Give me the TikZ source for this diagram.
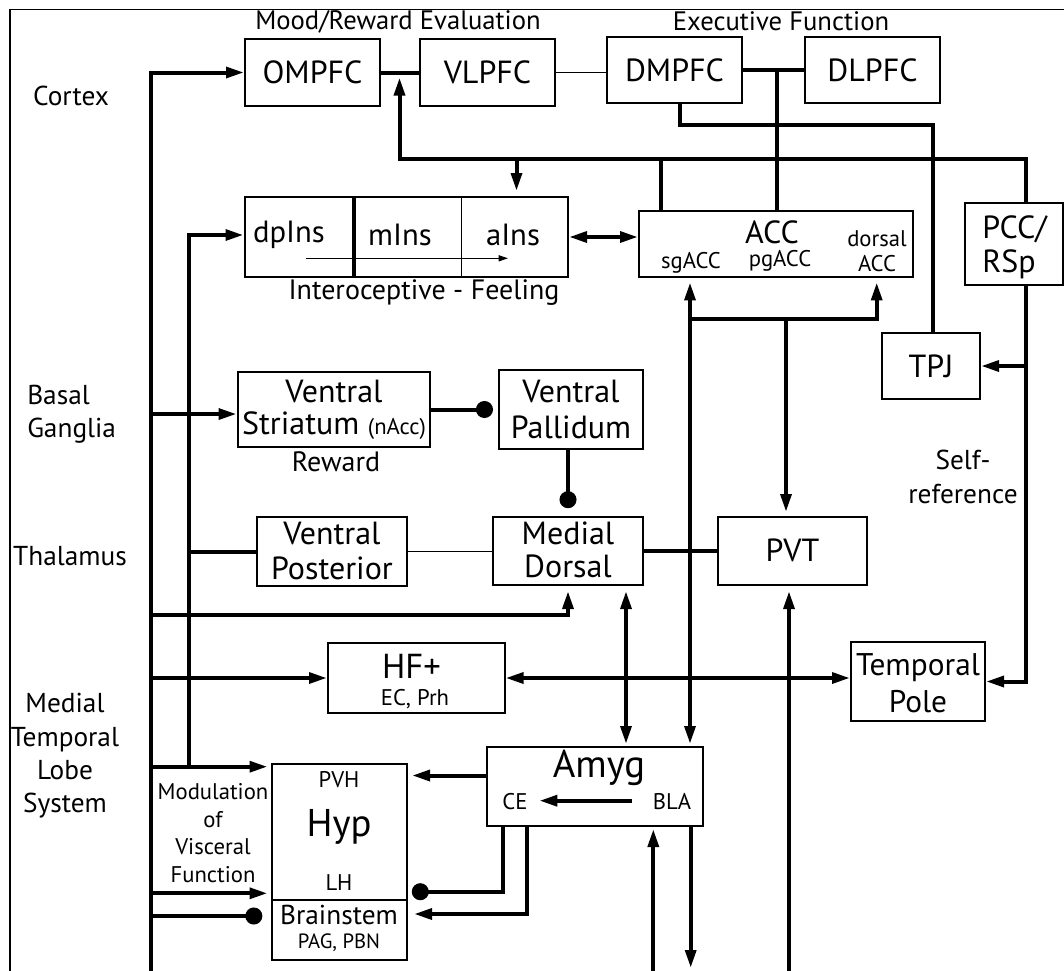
\documentclass[tikz,border=0pt]{standalone}
\usepackage{fontspec}
\setmainfont{PT Sans}
\usetikzlibrary{arrows.meta,fit}
\newcommand\fBox{\fontsize{24}{26}\selectfont}
\newcommand\fIns{\fontsize{23}{24}\selectfont}
\newcommand\fReg{\fontsize{20.5}{25}\selectfont}
\newcommand\fSub{\fontsize{17}{19}\selectfont}
\newcommand\fMod{\fontsize{17}{20.8}\selectfont}
\newcommand\fHead{\fontsize{20}{22}\selectfont}
\begin{document}
\begin{tikzpicture}[x=0.75pt,y=-0.75pt,
  box/.style={draw, line width=1.5pt, inner sep=0pt},
  txt/.style={inner sep=0pt, align=center},
  bt/.style={txt, font=\fBox},
  thk/.style={line width=3pt},
  thn/.style={line width=0.9pt},
  arr/.style={thk, -{Triangle[length=13.5pt,width=8pt]}},
  arrb/.style={thk, {Triangle[length=13.5pt,width=8pt]}-{Triangle[length=13.5pt,width=8pt]}},
  dotl/.style={thk, -{Circle[length=12.75pt]}}]
\useasboundingbox (0,0) rectangle (1064,971);
\fill[white] (0,0) rectangle (1064,971);
% frame
\draw[line width=1.2pt] (10,971) -- (10,9.5) -- (1064,9.5);

% boxes
\node[box, fit={(245,39) (380,106)}] (OMPFC) {};
\node[box, fit={(420,39) (555,106)}] (VLPFC) {};
\node[box, fit={(607,37) (742,103)}] (DMPFC) {};
\node[box, fit={(805,37) (940,103)}] (DLPFC) {};
\node[box, fit={(244.5,197) (568,277)}] (INS) {};
\node[box, fit={(639,211) (913,277)}] (ACC) {};
\node[box, fit={(965,203) (1063,284.5)}] (PCC) {};
\node[box, fit={(882,333) (980,399)}] (TPJ) {};
\node[box, fit={(237.6,372) (430.4,447)}] (VS) {};
\node[box, fit={(499.3,370) (643,449)}] (VP) {};
\node[box, fit={(257,517) (407,586)}] (VPost) {};
\node[box, fit={(493,516.5) (643,585)}] (MD) {};
\node[box, fit={(718,516.5) (867,585)}] (PVT) {};
\node[box, fit={(328,643) (504.5,713)}] (HF) {};
\node[box, fit={(851,642) (985,721)}] (TP) {};
\node[box, fit={(272,764) (407.4,960)}] (Hyp) {};
\node[box, fit={(487.3,747) (703.3,826)}] (Amyg) {};

% box texts
\node[bt] (OMPFCt) at (OMPFC.center) {OMPFC};
\node[bt] (VLPFCt) at (VLPFC.center) {VLPFC};
\node[bt] (DMPFCt) at (DMPFC.center) {DMPFC};
\node[bt] (DLPFCt) at (DLPFC.center) {DLPFC};
\node[bt] (TPJt) at (TPJ.center) {TPJ};
\node[bt] (PVTt) at (PVT.center) {PVT};
\node[bt, font=\fontsize{24}{27}\selectfont] (VPt) at (571,409) {Ventral\\Pallidum};
\node[bt, font=\fontsize{24}{26}\selectfont] (VPostt) at (332,551) {Ventral\\Posterior};
\node[bt, font=\fontsize{24}{25}\selectfont] (MDt) at (568,550) {Medial\\Dorsal};
\node[bt, font=\fontsize{23.5}{28}\selectfont] (TPt) at (918,683) {Temporal\\Pole};
\node[bt, font=\fontsize{24}{24}\selectfont] (VSt) at (334,410) {Ventral\\Striatum {\fSub(nAcc)}};

\node[txt, font=\fIns] (dpIns) at (289,235) {dpIns};
\node[txt, font=\fIns] (mIns) at (400,235) {mIns};
\node[txt, font=\fIns] (aIns) at (513,235) {aIns};
\draw[thk] (353.6,197) -- (353.6,277);
\draw[thn] (461.4,197) -- (461.4,277);
\draw[thn, -{Triangle[length=7pt,width=4.5pt]}] (305.8,258.3) -- (508,258.3);

\node[bt] (ACCt) at (772,232) {ACC};
\node[txt, font=\fSub] (sgACC) at (691,263) {sgACC};
\node[txt, font=\fSub] (pgACC) at (780,261) {pgACC};
\node[txt, font=\fSub] (dACC) at (877,251) {dorsal\\ACC};

\node[txt, font=\fontsize{24}{25.5}\selectfont, align=left, anchor=west] (PCCt) at (982,247) {PCC/\\RSp};

\node[txt, font=\fontsize{26}{28}\selectfont] (HFt) at (411.5,666) {HF+};
\node[txt, font=\fSub] (ECt) at (415,699) {EC, Prh};

\node[txt, font=\fSub] (PVH) at (339,780) {PVH};
\node[txt, font=\fontsize{29}{30}\selectfont] (Hypt) at (339,827) {Hyp};
\node[txt, font=\fSub] (LH) at (339,883) {LH};
\draw[line width=1.5pt] (272,900) -- (407.4,900);
\node[txt, font=\fReg] (BS) at (339,915) {Brainstem};
\node[txt, font=\fontsize{15.5}{18}\selectfont] (PAG) at (339,943) {PAG, PBN};

\node[txt, font=\fontsize{29}{30}\selectfont] (Amygt) at (599,768) {Amyg};
\node[txt, font=\fSub] (CE) at (515,802) {CE};
\node[txt, font=\fSub] (BLA) at (672,802) {BLA};
\draw[arr] (631.7,800.7) -- (539.3,800.7);

% free labels
\node[txt, font=\fHead] (mood) at (398,22) {Mood/Reward Evaluation};
\node[txt, font=\fHead] (exec) at (781,21) {Executive Function};
\node[txt, font=\fReg] (cortex) at (71,96) {Cortex};
\node[txt, font=\fReg, align=left, anchor=west] (basal) at (27,414) {Basal\\Ganglia};
\node[txt, font=\fReg] (thal) at (70,556) {Thalamus};
\node[txt, font=\fReg] (mtl) at (65,756) {Medial\\Temporal\\Lobe\\System};
\node[txt, font=\fMod] (mod) at (213,833) {Modulation\\of\\Visceral\\Function};
\node[txt, font=\fReg] (self) at (963,477) {Self-\\reference};
\node[txt, font=\fontsize{21}{24}\selectfont] (intero) at (424,293) {Interoceptive - Feeling};
\node[txt, font=\fontsize{21}{24}\selectfont] (reward) at (336,462) {Reward};

% coordinates
\coordinate (tr) at (150.5,971);
\coordinate (it) at (189,766.7);
\coordinate (bl) at (399.5,158.5);
\coordinate (br) at (1026,158.5);
\coordinate (s1) at (680,124.5);
\coordinate (s2) at (933,124.5);
\coordinate (jx) at (776.8,70);
\coordinate (b1) at (516.5,158.5);
\coordinate (b2) at (660.5,158.5);
\coordinate (j1) at (690,318.5);
\coordinate (c877) at (876.7,318.5);
\coordinate (c786) at (786,318.5);
\coordinate (c789) at (789,971);
\coordinate (c626) at (626,680);
\coordinate (c653) at (653.3,971);
\coordinate (c690b) at (690.7,968);
\coordinate (mj) at (568,615);
\coordinate (lh) at (150.5,893.3);
\coordinate (bs) at (150.5,916);
\coordinate (ce1) at (503.3,891.7);
\coordinate (ce2) at (526.7,914);
\coordinate (aw) at ([yshift=8.25pt]Amyg.west);
\coordinate (vsw) at ([yshift=-3.4pt]VS.west);

% trunks
\draw[arr] (tr) |- (OMPFC.west);
\draw[arr] (it) |- (INS.west |- dpIns);
\draw[arr] (tr |- vsw) -- (vsw);
\draw[thk] (it |- VPost.west) -- (VPost.west);
\draw[arr, shorten >=3.75pt] (tr |- mj) -| (MD.south);
\draw[arr] (tr |- HF.west) -- (HF.west);
\draw[arr, shorten >=2.6pt] (tr |- it) -- (Hyp.west |- it);
\draw[arr, shorten >=2.6pt] (lh) -- (Hyp.west |- lh);
\draw[dotl, shorten >=6.5pt] (bs) -- (Hyp.west |- bs);

% cortex
\draw[thk] (OMPFC.east) -- (VLPFC.west);
\draw[thn] (VLPFC.east) -- (VLPFC.east -| DMPFC.west);
\draw[thk] (DMPFC.east) -- (DLPFC.west);
\draw[thk] (jx) -- (jx |- ACC.north);
\draw[thk] (DMPFC.south -| s1) -- (s1) -- (s2) -- (s2 |- TPJ.north);
\draw[arr, shorten >=3.75pt] (br |- PCC.north) -- (br) -- (bl) -- (bl |- OMPFC.east);
\draw[arr, shorten >=3.75pt] (b1) -- (b1 |- INS.north);
\draw[thk] (b2) -- (b2 |- ACC.north);
\draw[arrb] (INS.east) -- (INS.east -| ACC.west);

% PCC
\draw[arr] (br |- PCC.south) |- (TP.east);
\draw[arr] (br |- TPJ.east) -- (TPJ.east);

% basal ganglia / thalamus
\draw[dotl, shorten >=4pt] (VS.east) -- (VP.west);
\draw[dotl, shorten >=5.5pt] (MD.north |- VP.south) -- (MD.north);
\draw[thn] (VPost.east) -- (VPost.east -| MD.west);
\draw[thk] (MD.east) -- (MD.east -| PVT.west);

% ACC / PVT / Amyg
\draw[arrb, shorten <=3.3pt, shorten >=1.5pt] (j1 |- ACC.south) -- (j1 |- Amyg.north);
\draw[arr, shorten >=3.3pt] (j1) -| (c877 |- ACC.south);
\draw[arr, shorten >=2.6pt] (c786) -- (c786 |- PVT.north);
\draw[arr, shorten >=3.75pt] (c789) -- (c789 |- PVT.south);
\draw[arrb, shorten <=3.75pt, shorten >=1.5pt] (c626 |- MD.south) -- (c626 |- Amyg.north);
\draw[arrb] (HF.east) -- (HF.east -| TP.west);
\draw[arr, shorten >=1.5pt] (c653) -- (c653 |- Amyg.south);
\draw[arr] (c690b |- Amyg.south) -- (c690b);
\draw[arr, shorten >=2.7pt] (aw) -- (aw -| Hyp.east);
\draw[dotl, shorten >=2.55pt] (ce1 |- Amyg.south) -- (ce1) -- (ce1 -| Hyp.east);
\draw[arr, shorten >=4.2pt] (ce2 |- Amyg.south) -- (ce2) -- (ce2 -| Hyp.east);
\end{tikzpicture}
\end{document}
